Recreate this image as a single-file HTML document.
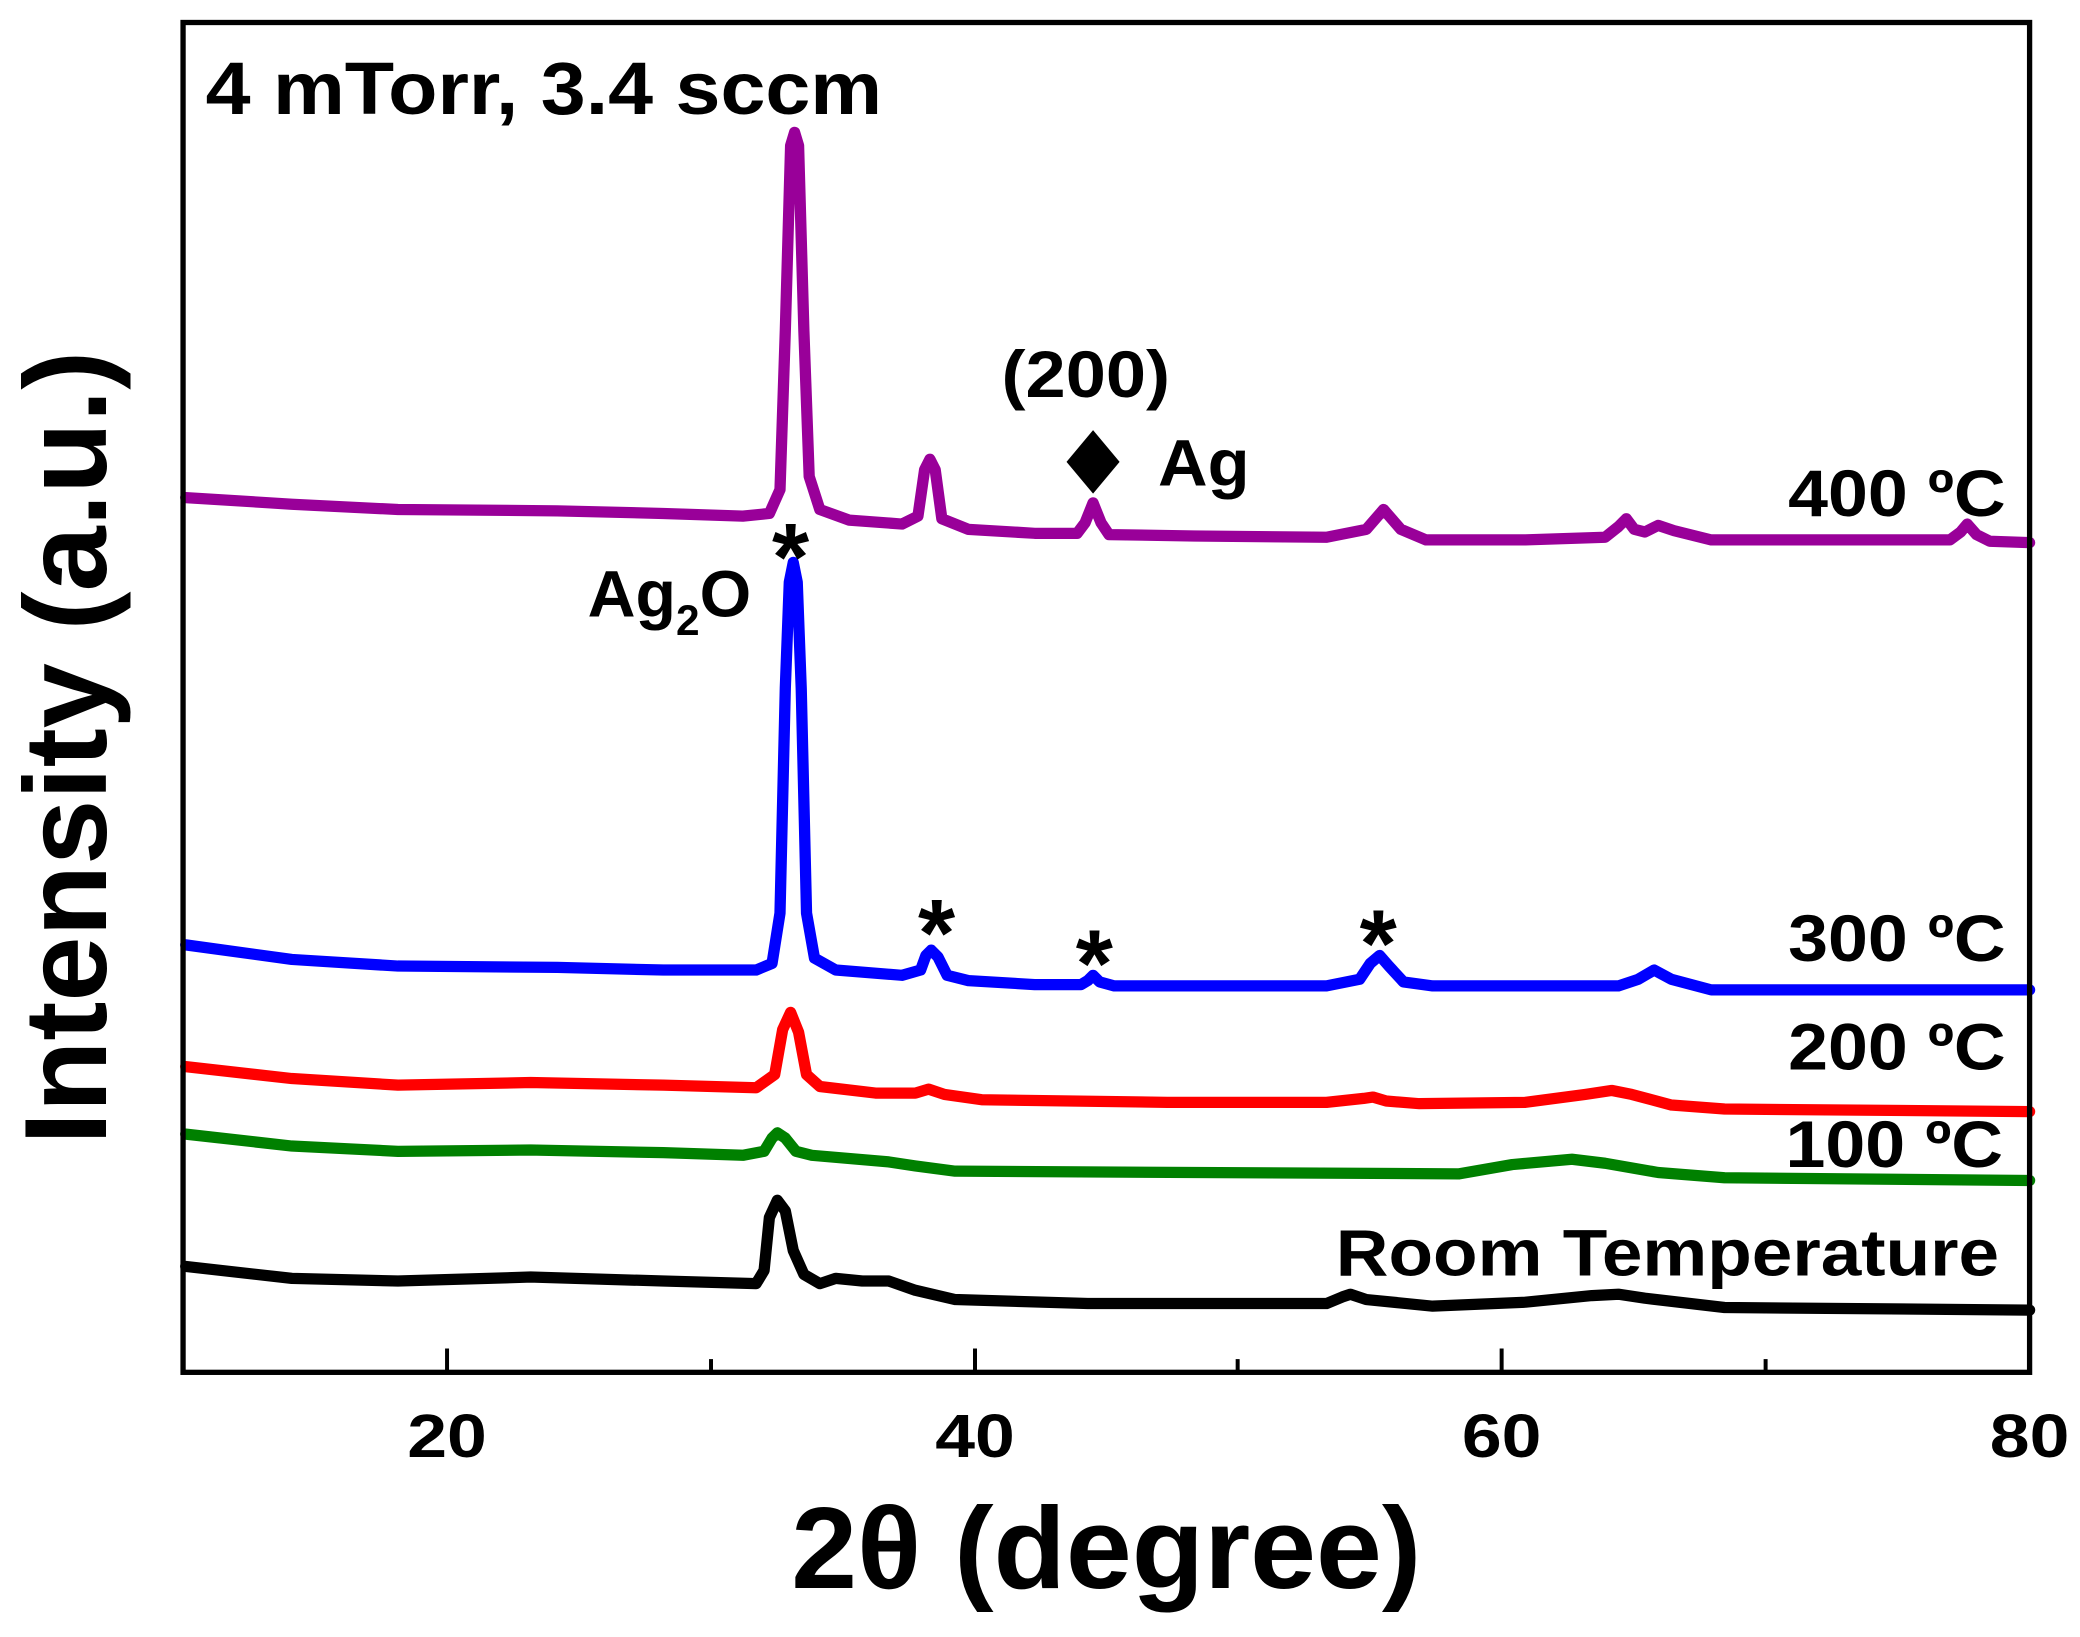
<!DOCTYPE html>
<html><head><meta charset="utf-8"><style>
html,body{margin:0;padding:0;background:#fff}
svg{display:block}
text{font-family:"Liberation Sans",Arial,sans-serif;font-weight:bold;fill:#000}
</style></head><body>
<svg width="2080" height="1637" viewBox="0 0 1568 1237" preserveAspectRatio="none" xmlns="http://www.w3.org/2000/svg">
<rect width="1568" height="1237" fill="#fff"/>
<g fill="none" stroke-width="8.5" stroke-linejoin="round" stroke-linecap="round">
<polyline stroke="#990099" points="140,376 220,381 300,385 420,386 500,388 560,390 580,388 588,370 592,250 596,110 599,100 602,110 606,250 610,360 618,385 640,393 680,396 692,390 697,355 701,347 705,355 710,392 730,400 780,403 812,403 818,395 824,380 830,395 836,404 900,405 1000,406 1030,400 1043,385 1056,400 1075,408 1150,408 1210,406 1220,398 1226,392 1232,400 1240,402 1250,397 1262,401 1290,408 1400,408 1470,408 1478,402 1483,396 1490,404 1500,409 1530,410"/>
<polyline stroke="#0000ff" points="140,714 220,725 300,730 420,731 500,733 570,733 582,728 588,690 592,520 595,440 598,425 601,440 604,520 608,690 614,724 630,733 680,737 694,733 698,722 702,718 707,723 714,737 730,741 780,744 815,744 820,741 824,737 829,742 840,745 1000,745 1025,740 1033,728 1040,722 1047,730 1058,742 1080,745 1220,745 1235,740 1247,733 1260,740 1290,748 1530,748"/>
<polyline stroke="#ff0000" points="140,806 220,815 300,820 400,818 500,820 570,822 584,812 590,778 596,765 602,780 608,812 618,821 660,826 690,826 700,823 712,827 740,831 880,833 1000,833 1028,830 1035,829 1045,832 1070,834 1150,833 1195,827 1215,824 1230,827 1260,835 1300,838 1530,840"/>
<polyline stroke="#008000" points="140,857 220,866 300,870 400,869 500,871 560,873 576,870 582,860 586,856 592,860 600,870 612,873 670,878 690,881 720,885 900,886 1100,887 1140,880 1185,876 1210,879 1250,886 1300,890 1530,892"/>
<polyline stroke="#000000" points="140,957 220,966 300,968 400,965 500,968 570,970 576,960 580,920 586,907 592,915 598,945 606,963 618,970 630,966 650,968 670,968 690,975 720,982 820,985 1000,985 1012,980 1018,978 1030,982 1080,987 1150,984 1200,979 1220,978 1240,981 1300,988 1530,990"/>
</g>
<g stroke="#000" fill="none">
<rect x="138" y="17" width="1392" height="1020" stroke-width="4"/>
<line x1="337" y1="1037" x2="337" y2="1019" stroke-width="3"/>
<line x1="735" y1="1037" x2="735" y2="1019" stroke-width="3"/>
<line x1="1132" y1="1037" x2="1132" y2="1019" stroke-width="3"/>
<line x1="536" y1="1037" x2="536" y2="1027" stroke-width="3"/>
<line x1="933" y1="1037" x2="933" y2="1027" stroke-width="3"/>
<line x1="1331" y1="1037" x2="1331" y2="1027" stroke-width="3"/>
</g>
<g font-size="46" text-anchor="middle">
<text x="337" y="1101" textLength="60" lengthAdjust="spacingAndGlyphs">20</text>
<text x="735" y="1101" textLength="60" lengthAdjust="spacingAndGlyphs">40</text>
<text x="1132" y="1101" textLength="60" lengthAdjust="spacingAndGlyphs">60</text>
<text x="1530" y="1101" textLength="60" lengthAdjust="spacingAndGlyphs">80</text>
</g>
<text x="834" y="1200" font-size="88" text-anchor="middle" textLength="475" lengthAdjust="spacingAndGlyphs">2θ (degree)</text>
<text transform="translate(80,565) rotate(-90)" font-size="88" text-anchor="middle" textLength="600" lengthAdjust="spacingAndGlyphs">Intensity (a.u.)</text>
<text x="155" y="86" font-size="56" textLength="510" lengthAdjust="spacingAndGlyphs">4 mTorr, 3.4 sccm</text>
<text x="755" y="300" font-size="50" textLength="127" lengthAdjust="spacingAndGlyphs">(200)</text>
<polygon points="824,325 844,349 824,373 804,349" fill="#000"/>
<text x="873" y="367" font-size="50" textLength="69" lengthAdjust="spacingAndGlyphs">Ag</text>
<text x="1348" y="390" font-size="50" textLength="164" lengthAdjust="spacingAndGlyphs">400 ºC</text>
<text x="443" y="466" font-size="50">Ag<tspan font-size="32" dy="14">2</tspan><tspan dy="-14">O</tspan></text>
<g font-size="72" text-anchor="middle" font-weight="normal">
<text x="596" y="446">*</text>
<text x="706" y="730">*</text>
<text x="825" y="753">*</text>
<text x="1039" y="738">*</text>
</g>
<text x="1348" y="726" font-size="50" textLength="164" lengthAdjust="spacingAndGlyphs">300 ºC</text>
<text x="1348" y="808" font-size="50" textLength="164" lengthAdjust="spacingAndGlyphs">200 ºC</text>
<text x="1346" y="882" font-size="50" textLength="164" lengthAdjust="spacingAndGlyphs">100 ºC</text>
<text x="1007" y="964" font-size="50" textLength="500" lengthAdjust="spacingAndGlyphs">Room Temperature</text>
</svg>
</body></html>
